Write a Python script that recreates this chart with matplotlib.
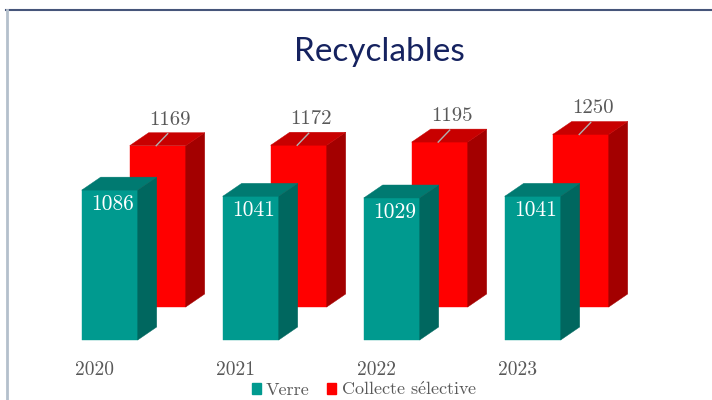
import matplotlib.pyplot as plt
from matplotlib.patches import Polygon, Patch
from matplotlib.lines import Line2D

plt.rcParams['mathtext.fontset'] = 'cm'

# données
annees = ['2020', '2021', '2022', '2023']
verre = [1086, 1041, 1029, 1041]
collecte = [1169, 1172, 1195, 1250]

# couleurs (face avant, côté, dessus)
c_verre = ('#009A8F', '#00675F', '#007A71')
c_collecte = ('#FF0000', '#A30000', '#C80000')
gris = '#595959'
serif = ['cmr10', 'DejaVu Serif']

# géométrie en pixels -> unités des axes
px_cat = 141.0     # pixels par catégorie
px_val = 0.138     # pixels par unité
largeur = 56 / px_cat
prof_x = 19 / px_cat
prof_y = 13 / px_val
rang_x = 48 / px_cat   # décalage de la 2e rangée (arrière)
rang_y = 33 / px_val

fig = plt.figure(figsize=(7.12, 4.0), dpi=100)
ax = fig.add_axes([0, 0, 1, 1])
ax.set_xlim(-109.7 / px_cat, (712 - 109.7) / px_cat)
ax.set_ylim(-60 / px_val, 340 / px_val)
ax.axis('off')


def barres_3d(x, valeurs, base, couleurs, z):
    ax.bar(x, valeurs, width=largeur, bottom=base, color=couleurs[0],
           edgecolor=couleurs[0], linewidth=0.3, zorder=z)
    for xc, v in zip(x, valeurs):
        g, d = xc - largeur / 2, xc + largeur / 2
        haut = base + v
        cote = Polygon([(d, base), (d + prof_x, base + prof_y),
                        (d + prof_x, haut + prof_y), (d, haut)],
                       facecolor=couleurs[1], edgecolor=couleurs[1], lw=0.3, zorder=z)
        dessus = Polygon([(g, haut), (g + prof_x, haut + prof_y),
                          (d + prof_x, haut + prof_y), (d, haut)],
                         facecolor=couleurs[2], edgecolor=couleurs[2], lw=0.3, zorder=z)
        ax.add_patch(cote)
        ax.add_patch(dessus)


pos = list(range(len(annees)))
pos_arriere = [p + rang_x for p in pos]

# rangée arrière : collecte sélective
barres_3d(pos_arriere, collecte, rang_y, c_collecte, 1)
for xc, v in zip(pos_arriere, collecte):
    haut = rang_y + v
    ax.plot([xc - 1.5 / px_cat, xc + 10 / px_cat], [haut, haut + 12 / px_val],
            color='#b0b0b0', lw=1, zorder=3)
    ax.text(xc + 12 / px_cat, haut + 26 / px_val, str(v), color=gris,
            fontsize=15, family=serif, ha='center', va='center', zorder=4)

# rangée avant : verre
barres_3d(pos, verre, 0, c_verre, 2)
for xc, v in zip(pos, verre):
    ax.text(xc + 0.02, v - 14 / px_val, str(v), color='white',
            fontsize=15.5, family=serif, ha='center', va='center', zorder=4)

# étiquettes des années
for xc, a in zip(pos, annees):
    ax.text(xc - 0.11, -30 / px_val, a, color=gris, fontsize=14,
            family=serif, ha='center', va='center')

# titre
fig.text(0.533, 0.87, 'Recyclables', color='#15225F', fontsize=24,
         family='Lato', ha='center', va='center')

# légende
poignees = [Patch(color=c_verre[0], label='Verre'),
            Patch(color=c_collecte[0], label=r'Collecte s$\mathrm{\acute{e}}$lective')]
leg = fig.legend(handles=poignees, loc='center', bbox_to_anchor=(0.512, 0.027),
                 ncol=2, frameon=False, handlelength=0.5, handleheight=0.5,
                 handletextpad=0.25, columnspacing=1.0,
                 prop={'family': serif, 'size': 13})
for t in leg.get_texts():
    t.set_color(gris)

# cadre de la diapositive
fig.add_artist(Line2D([6 / 712, 1], [1 - 10 / 400, 1 - 10 / 400],
                      color='#46557a', lw=1.5))
fig.add_artist(Line2D([7 / 712, 7 / 712], [0, 1 - 10 / 400],
                      color='#b4c0cc', lw=2))

fig.savefig('out.png', dpi=100)
